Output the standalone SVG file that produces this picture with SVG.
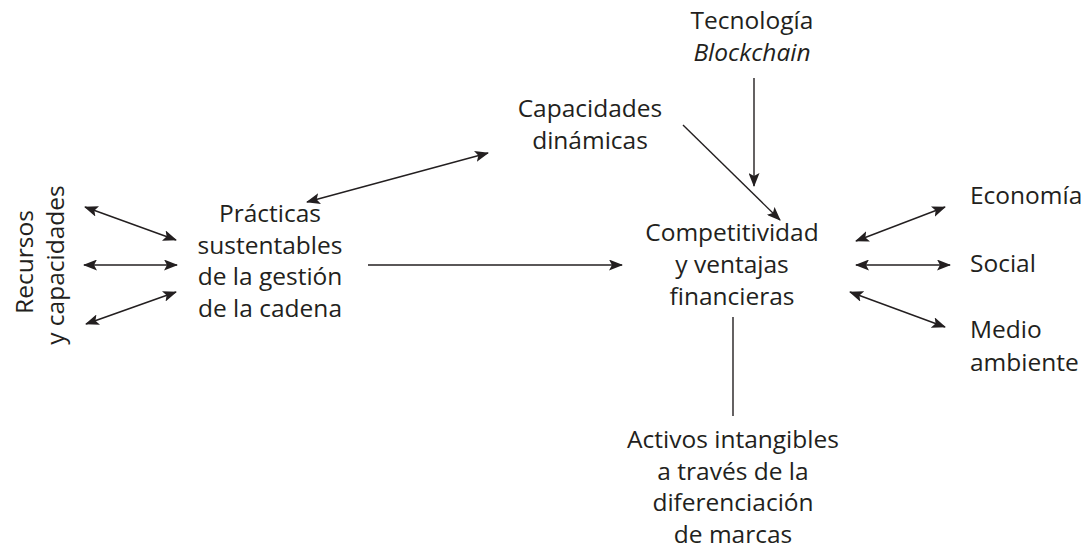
<svg xmlns="http://www.w3.org/2000/svg" width="1087" height="550" viewBox="0 0 1087 550">
<style>
text{font-family:"Open Sans","Noto Sans",sans-serif;font-size:24.5px;fill:#231f20;text-anchor:middle}
.l{text-anchor:start}
.c line{stroke:#231f20;stroke-width:1.4;fill:none}
.a{marker-end:url(#ah)}
.d{marker-start:url(#ah);marker-end:url(#ah)}
</style>
<defs>
<marker id="ah" viewBox="0 0 14 11" refX="13" refY="5.5" markerWidth="14" markerHeight="11" markerUnits="userSpaceOnUse" orient="auto-start-reverse">
<path d="M0,0 L14,5.5 L0,11 L3,5.5 Z" fill="#231f20"/>
</marker>
</defs>
<g id="recursos"><text transform="translate(33,262) rotate(-90)">Recursos</text><text transform="translate(64,265) rotate(-90)">y capacidades</text></g>
<g id="practicas"><text x="270" y="222">Prácticas</text><text x="270" y="254">sustentables</text><text x="270" y="285">de la gestión</text><text x="270" y="317">de la cadena</text></g>
<g id="capacidades"><text x="590" y="117">Capacidades</text><text x="590" y="149">dinámicas</text></g>
<g id="blockchain"><text x="752" y="29">Tecnología</text><text x="752" y="61" font-style="italic">Blockchain</text></g>
<g id="competitividad"><text x="732" y="241">Competitividad</text><text x="732" y="273">y ventajas</text><text x="732" y="305">financieras</text></g>
<g id="activos"><text x="733" y="448">Activos intangibles</text><text x="733" y="480">a través de la</text><text x="733" y="511">diferenciación</text><text x="733" y="543">de marcas</text></g>
<g id="economia"><text class="l" x="970" y="204">Economía</text></g>
<g id="social"><text class="l" x="970" y="272">Social</text></g>
<g id="medio"><text class="l" x="970" y="338">Medio</text><text class="l" x="970" y="371">ambiente</text></g>
<g id="connectors" class="c">
<line class="d" x1="85" y1="207" x2="176" y2="240"/>
<line class="d" x1="84" y1="265" x2="177" y2="265"/>
<line class="d" x1="86" y1="324" x2="176" y2="292"/>
<line class="d" x1="307" y1="202" x2="488" y2="153"/>
<line class="a" x1="368" y1="265" x2="622" y2="265"/>
<line class="a" x1="754" y1="78" x2="754" y2="186"/>
<line class="a" x1="683" y1="125" x2="780" y2="220"/>
<line class="d" x1="856" y1="241" x2="945" y2="207"/>
<line class="d" x1="856" y1="265" x2="950" y2="265"/>
<line class="d" x1="850" y1="292" x2="945" y2="327"/>
<line x1="733" y1="317" x2="733" y2="416"/>
</g>
</svg>
